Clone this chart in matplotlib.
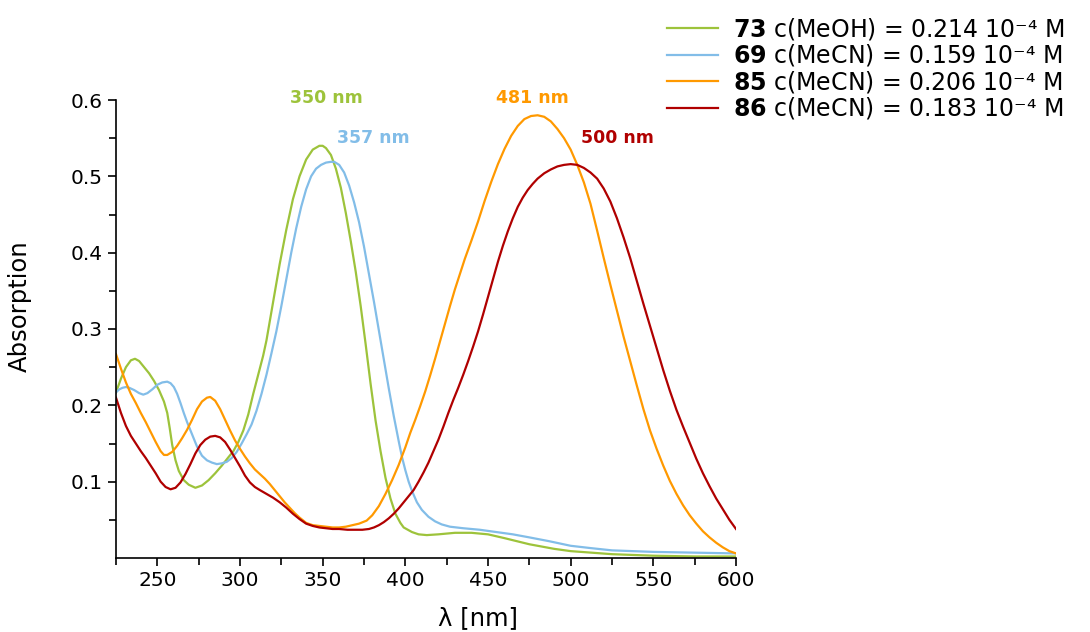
import numpy as np
import matplotlib
matplotlib.use("Agg")
import matplotlib.pyplot as plt
from matplotlib.ticker import FixedLocator

# --- spectra (wavelength in nm, absorbance) ---
wl_73 = [225, 228, 231, 234, 236.5, 239, 242, 245, 248, 251, 254, 256, 257.5, 259, 261,
         263, 266, 269, 273, 277, 281, 285, 289, 293, 296, 299, 302, 305, 308, 311, 314,
         316, 320, 324, 328, 332, 336, 340, 344, 348, 350, 352, 355, 358, 361, 364, 367,
         370, 373, 376, 379, 382, 385, 388, 391, 394, 397, 399, 404, 408, 413, 420, 430,
         440, 450, 460, 475, 490, 500, 525, 550, 575, 600]
abs_73 = [0.217, 0.235, 0.250, 0.259, 0.261, 0.258, 0.250, 0.242, 0.232, 0.220, 0.205,
          0.190, 0.170, 0.148, 0.128, 0.114, 0.102, 0.096, 0.092, 0.095, 0.102, 0.111,
          0.121, 0.132, 0.140, 0.152, 0.167, 0.188, 0.215, 0.240, 0.265, 0.285, 0.335,
          0.385, 0.430, 0.470, 0.500, 0.522, 0.535, 0.540, 0.540, 0.537, 0.528, 0.510,
          0.485, 0.452, 0.415, 0.375, 0.330, 0.280, 0.228, 0.180, 0.140, 0.105, 0.078,
          0.058, 0.046, 0.040, 0.034, 0.031, 0.030, 0.031, 0.033, 0.033, 0.031, 0.026,
          0.018, 0.012, 0.009, 0.005, 0.003, 0.002, 0.002]

wl_69 = [225, 227, 229, 231, 233, 236, 239, 241.5, 244, 247, 250, 253, 256, 258, 260,
         262, 264, 266, 268, 271, 274, 277, 280, 283, 286, 289, 292, 295, 298, 301, 304,
         307, 310, 313, 316, 319, 322, 325, 328, 331, 334, 337, 340, 343, 346, 349, 352,
         355, 357, 360, 363, 366, 369, 372, 375, 378, 381, 384, 387, 390, 393, 396, 398,
         400, 402, 404, 407, 410, 414, 418, 422, 427, 435, 445, 455, 465, 475, 487, 500,
         512, 525, 550, 575, 600]
abs_69 = [0.217, 0.221, 0.223, 0.224, 0.223, 0.220, 0.216, 0.214, 0.216, 0.221, 0.227,
          0.230, 0.231, 0.229, 0.224, 0.215, 0.203, 0.190, 0.178, 0.162, 0.146, 0.134,
          0.128, 0.125, 0.123, 0.124, 0.126, 0.131, 0.139, 0.150, 0.162, 0.175, 0.193,
          0.215, 0.240, 0.268, 0.297, 0.330, 0.365, 0.400, 0.432, 0.460, 0.483, 0.500,
          0.510, 0.515, 0.518, 0.519, 0.519, 0.515, 0.505, 0.488, 0.466, 0.440, 0.408,
          0.372, 0.336, 0.298, 0.260, 0.222, 0.186, 0.153, 0.132, 0.115, 0.100, 0.088,
          0.073, 0.063, 0.054, 0.048, 0.044, 0.041, 0.039, 0.037, 0.034, 0.031, 0.027,
          0.022, 0.016, 0.013, 0.010, 0.008, 0.007, 0.006]

wl_85 = [225, 228, 231, 234, 237, 240, 243, 246, 249, 252, 254, 256, 259, 262, 265, 268,
         271, 274, 277, 280, 282, 285, 288, 291, 294, 297, 300, 303, 306, 309, 312, 315,
         318, 321, 324, 327, 330, 333, 336, 340, 344, 348, 352, 356, 360, 364, 368, 372,
         376.6, 380, 384, 388, 392, 396, 400, 403, 406, 409, 412, 415, 418, 421, 424, 427,
         430, 433, 436, 440, 444, 448, 452, 456, 460, 464, 468, 472, 476, 480, 484, 488,
         492, 496, 500, 504, 508, 512, 516, 520, 524, 528, 532, 536, 540, 544, 548, 552,
         556, 560, 564, 568, 572, 576, 580, 584, 588, 592, 596, 600]
abs_85 = [0.267, 0.248, 0.230, 0.215, 0.203, 0.190, 0.178, 0.165, 0.152, 0.140, 0.135,
          0.135, 0.139, 0.147, 0.157, 0.168, 0.181, 0.195, 0.205, 0.210, 0.211, 0.206,
          0.195, 0.181, 0.167, 0.154, 0.143, 0.133, 0.124, 0.116, 0.110, 0.104, 0.097,
          0.089, 0.081, 0.073, 0.066, 0.059, 0.053, 0.046, 0.043, 0.042, 0.041, 0.040,
          0.040, 0.041, 0.043, 0.045, 0.049, 0.056, 0.068, 0.084, 0.102, 0.122, 0.145,
          0.164, 0.181, 0.199, 0.218, 0.239, 0.261, 0.284, 0.307, 0.330, 0.352, 0.372,
          0.392, 0.416, 0.441, 0.468, 0.493, 0.516, 0.536, 0.553, 0.566, 0.575, 0.579,
          0.580, 0.578, 0.572, 0.562, 0.550, 0.535, 0.515, 0.492, 0.464, 0.429, 0.393,
          0.358, 0.324, 0.290, 0.258, 0.226, 0.195, 0.167, 0.143, 0.121, 0.101, 0.084,
          0.069, 0.056, 0.045, 0.035, 0.027, 0.020, 0.014, 0.009, 0.006]

wl_86 = [225, 228, 231, 234, 237, 240, 243, 246, 249, 252, 255, 258, 261, 264, 267, 270,
         273, 276, 279, 282, 285, 288, 291, 294, 297, 300, 303, 306, 309, 312, 316, 320,
         324, 328, 332, 336, 340, 344, 348, 352, 356, 360, 365, 370, 374, 378, 381, 384,
         387, 390, 393, 396, 399, 402, 405, 408, 411, 414, 417, 420, 423, 426, 429, 432,
         435, 438, 441, 444, 447, 450, 453, 456, 459, 462, 465, 468, 471, 474, 477, 480,
         484, 488, 492, 496, 500, 504, 508, 512, 516, 520, 524, 528, 532, 536, 540, 544,
         548, 552, 556, 560, 564, 568, 572, 576, 580, 584, 588, 592, 596, 600]
abs_86 = [0.210, 0.190, 0.173, 0.160, 0.150, 0.140, 0.131, 0.121, 0.111, 0.100, 0.093,
          0.090, 0.092, 0.099, 0.110, 0.123, 0.137, 0.148, 0.155, 0.159, 0.160, 0.158,
          0.152, 0.142, 0.131, 0.120, 0.108, 0.099, 0.093, 0.089, 0.084, 0.079, 0.073,
          0.066, 0.058, 0.051, 0.045, 0.042, 0.040, 0.039, 0.038, 0.038, 0.037, 0.037,
          0.037, 0.038, 0.040, 0.043, 0.047, 0.052, 0.058, 0.065, 0.073, 0.081, 0.089,
          0.100, 0.112, 0.125, 0.140, 0.155, 0.172, 0.190, 0.207, 0.223, 0.240, 0.258,
          0.277, 0.297, 0.319, 0.342, 0.365, 0.388, 0.409, 0.428, 0.445, 0.460, 0.472,
          0.482, 0.490, 0.497, 0.504, 0.509, 0.513, 0.515, 0.516, 0.515, 0.511, 0.505,
          0.497, 0.484, 0.467, 0.445, 0.420, 0.393, 0.363, 0.333, 0.304, 0.275, 0.246,
          0.219, 0.194, 0.172, 0.151, 0.130, 0.111, 0.094, 0.078, 0.064, 0.050, 0.038]

labels = [r"$\mathbf{73}$ c(MeOH) = 0.214 10⁻⁴ M",
          r"$\mathbf{69}$ c(MeCN) = 0.159 10⁻⁴ M",
          r"$\mathbf{85}$ c(MeCN) = 0.206 10⁻⁴ M",
          r"$\mathbf{86}$ c(MeCN) = 0.183 10⁻⁴ M"]
colors = ["#9dc33b", "#82bde8", "#ff9900", "#b00000"]

peak_text = ["350 nm", "357 nm", "481 nm", "500 nm"]
peak_pos = [(352, 0.602), (380.5, 0.550), (477, 0.602), (528, 0.550)]

fig = plt.figure(figsize=(10.9, 6.32), dpi=100)
ax = fig.add_axes([116 / 1090, 74 / 632, 620 / 1090, 458 / 632])

series = [(wl_73, abs_73), (wl_69, abs_69), (wl_85, abs_85), (wl_86, abs_86)]
for (wl, a), c, lab in zip(series, colors, labels):
    ax.plot(wl, a, color=c, lw=1.6, label=lab)

for txt, (x, y), c in zip(peak_text, peak_pos, colors):
    ax.text(x, y, txt, color=c, fontsize=12.5, fontweight="bold",
            ha="center", va="center")

ax.set_xlim(225, 600)
ax.set_ylim(0, 0.6)
ax.xaxis.set_major_locator(FixedLocator([250, 300, 350, 400, 450, 500, 550, 600]))
ax.xaxis.set_minor_locator(FixedLocator([225, 275, 325, 375, 425, 475, 525, 575]))
ax.yaxis.set_major_locator(FixedLocator([0.1, 0.2, 0.3, 0.4, 0.5, 0.6]))
ax.yaxis.set_minor_locator(FixedLocator([0.05, 0.15, 0.25, 0.35, 0.45, 0.55]))
ax.tick_params(which="major", length=6, width=1.2, labelsize=14.5)
ax.tick_params(which="minor", length=5, width=1.2)
for s in ["top", "right"]:
    ax.spines[s].set_visible(False)
for s in ["left", "bottom"]:
    ax.spines[s].set_linewidth(1.2)

ax.set_xlabel("λ [nm]", fontsize=17.5)
ax.set_ylabel("Absorption", fontsize=17.5)
ax.xaxis.set_label_coords(0.584, -0.105)
ax.yaxis.set_label_coords(-0.135, 0.55)

fig.legend(loc="upper left", bbox_to_anchor=(667 / 1090, 1 - 16 / 632), frameon=False,
           fontsize=17, handlelength=2.15, handletextpad=0.65, labelspacing=0.02,
           borderpad=0, borderaxespad=0)

fig.savefig("out.png", dpi=100)
